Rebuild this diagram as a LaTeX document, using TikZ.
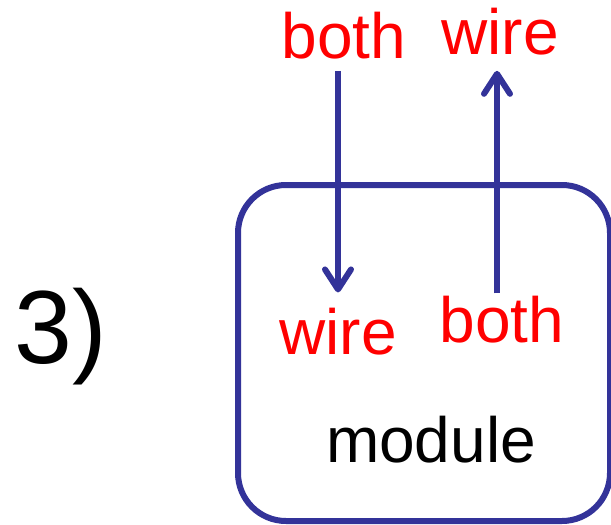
\documentclass[tikz,border=0pt]{standalone}
\usepackage{fontspec}
\setmainfont{Liberation Sans}
\usetikzlibrary{arrows.meta}
\definecolor{boxblue}{RGB}{51,51,153}
\tikzset{
  lbl/.style={inner sep=0pt, anchor=base, font=\fontsize{64}{77}\selectfont},
  redlbl/.style={lbl, text=red},
  arr/.style={draw=boxblue, line width=6pt, -{Straight Barb[length=20pt,width=26pt,line cap=round,line join=round]}},
  modbox/.style={draw=boxblue, line width=6pt, rounded corners=48pt}
}
\begin{document}
\begin{tikzpicture}[x=1pt,y=-1pt]
\useasboundingbox (0,0) rectangle (611,525);
\draw[modbox] (238,185) rectangle (610,521);
\node[lbl, font=\fontsize{104}{120}\selectfont] (num) at (61,363) {3)};
\node[redlbl] (topboth) at (344,58) {both};
\node[redlbl] (topwire) at (500,54) {wire};
\node[redlbl] (lowwire) at (338,354) {wire};
\node[redlbl] (lowboth) at (502,342) {both};
\node[lbl] (mod) at (431,462) {module};
\draw[arr, shorten <=12pt, shorten >=15pt] (topboth.south -| lowwire.north) -- (lowwire.north);
\draw[arr, shorten <=2pt, shorten >=16pt] ([xshift=-5pt]lowboth.north) -- ([xshift=-3pt]topwire.south);
\end{tikzpicture}
\end{document}
